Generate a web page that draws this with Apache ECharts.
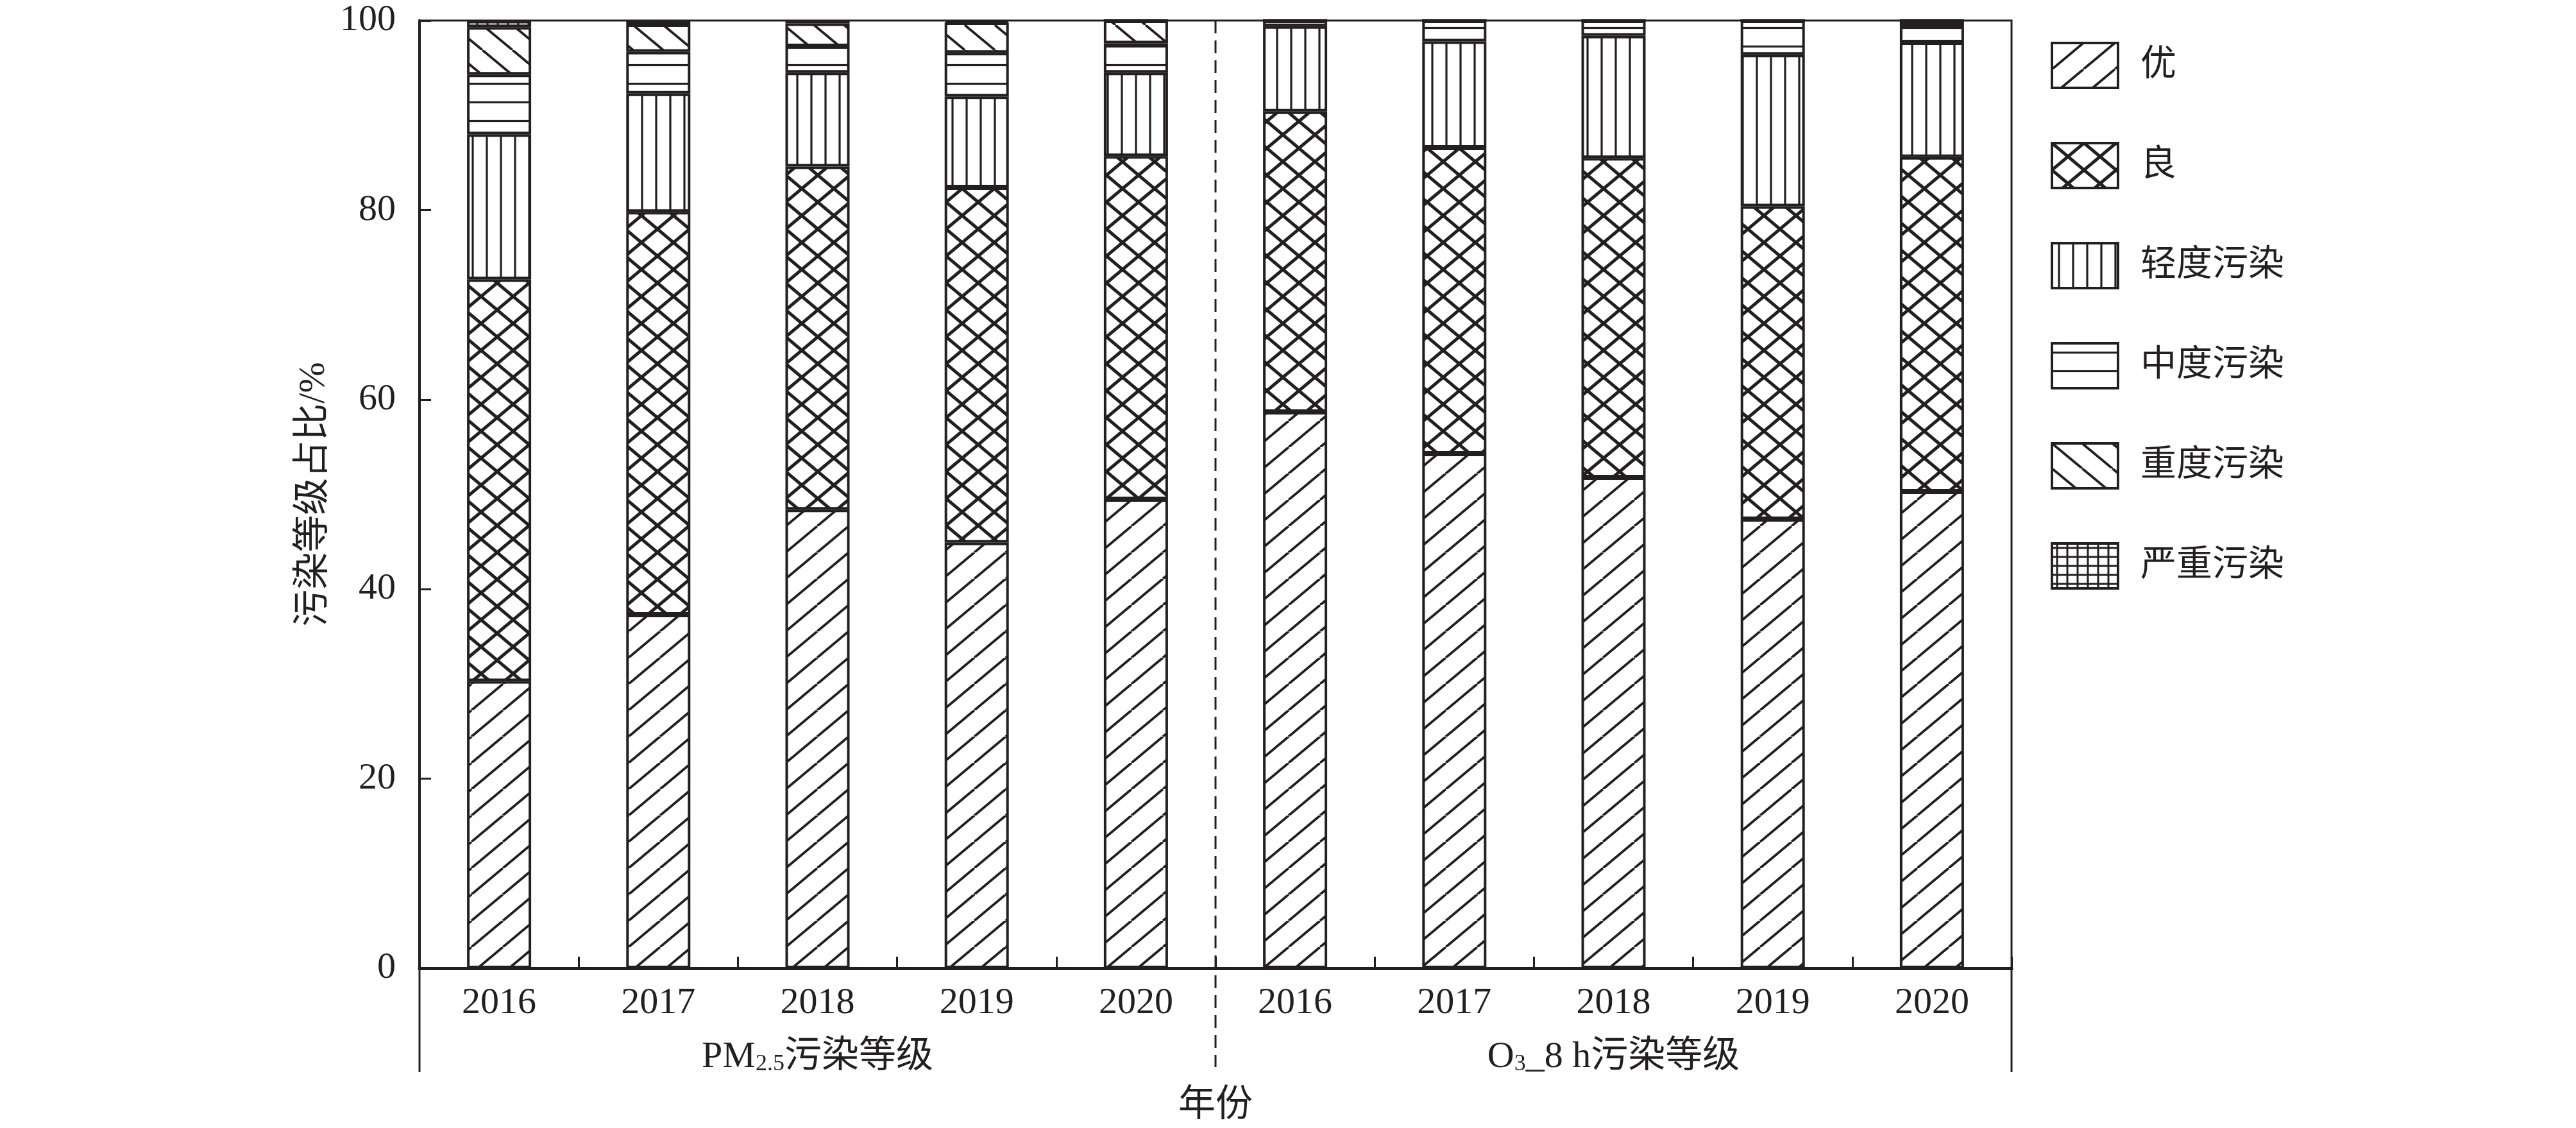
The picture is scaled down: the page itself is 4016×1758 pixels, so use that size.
<!DOCTYPE html>
<html>
<head>
<meta charset="utf-8">
<script src="https://cdn.jsdelivr.net/npm/echarts@6/dist/echarts.min.js"></script>
<style>
html,body{margin:0;padding:0;background:#fff;}
#chart{width:4016px;height:1758px;}
</style>
</head>
<body>
<div id="chart"></div>
<script>
// ---- data ----
const years = ['2016', '2017', '2018', '2019', '2020'];
const groups = ['PM{sub|2.5}污染等级', 'O{sub|3}_8 h污染等级'];
const levels = ['优', '良', '轻度污染', '中度污染', '重度污染', '严重污染'];
const yTicks = [0, 20, 40, 60, 80, 100];
// values (%) : PM2.5 2016-2020, then O3_8h 2016-2020
const excellent = [30.3, 37.3, 48.4, 44.9, 49.5, 58.7, 54.3, 51.8, 47.4, 50.3];
const good      = [42.4, 42.5, 36.2, 37.5, 36.2, 31.7, 32.3, 33.7, 33.0, 35.3];
const light     = [15.3, 12.5,  9.9,  9.6,  8.8,  9.0, 11.2, 12.9, 16.0, 12.1];
const moderate  = [ 6.3,  4.4,  2.8,  4.6,  3.1,  0.6,  2.2,  1.6,  3.6,  1.9];
const heavy     = [ 5.0,  2.9,  2.4,  3.2,  2.4,  0,    0,    0,    0,    0.4];
const severe    = [ 0.7,  0.4,  0.3,  0.2,  0,    0,    0,    0,    0,    0  ];

const INK = '#231f20';
const FONT = '"Liberation Serif", "Noto Sans CJK SC", serif';

// categories: one per group x year
const categories = [];
groups.forEach((g, gi) => years.forEach(y => categories.push(gi + '|' + y)));

// ---- hatch patterns ----
function tile(w, h, draw) {
  const c = document.createElement('canvas');
  c.width = w; c.height = h;
  const ctx = c.getContext('2d');
  ctx.fillStyle = '#fff';
  ctx.fillRect(0, 0, w, h);
  ctx.strokeStyle = INK;
  draw(ctx, w, h);
  return { image: c, repeat: 'repeat' };
}
function lineSeg(ctx, x1, y1, x2, y2) {
  ctx.beginPath(); ctx.moveTo(x1, y1); ctx.lineTo(x2, y2); ctx.stroke();
}
const patterns = [
  // 优: forward slash
  tile(49, 41, (ctx, w, h) => {
    ctx.lineWidth = 3.8;
    [-w, 0, w].forEach(dx => lineSeg(ctx, dx, h, dx + w, 0));
  }),
  // 良: crosshatch (diamonds)
  tile(50, 42, (ctx, w, h) => {
    ctx.lineWidth = 5;
    [-w, 0, w].forEach(dx => {
      lineSeg(ctx, dx, h, dx + w, 0);
      lineSeg(ctx, dx, 0, dx + w, h);
    });
  }),
  // 轻度污染: vertical lines
  tile(22, 4, (ctx, w, h) => {
    ctx.lineWidth = 3.2;
    lineSeg(ctx, 11, 0, 11, h);
  }),
  // 中度污染: horizontal lines
  tile(4, 29, (ctx, w, h) => {
    ctx.lineWidth = 3.2;
    lineSeg(ctx, 0, 14.5, w, 14.5);
  }),
  // 重度污染: back slash
  tile(47, 39, (ctx, w, h) => {
    ctx.lineWidth = 3.8;
    [-w, 0, w].forEach(dx => lineSeg(ctx, dx, 0, dx + w, h));
  }),
  // 严重污染: grid
  tile(16, 14, (ctx, w, h) => {
    ctx.lineWidth = 3;
    lineSeg(ctx, 8, 0, 8, h);
    lineSeg(ctx, 0, 7, w, 7);
  })
];

const seriesData = [excellent, good, light, moderate, heavy, severe];

const chart = echarts.init(document.getElementById('chart'), null, { renderer: 'canvas' });

const option = {
  backgroundColor: '#fff',
  animation: false,
  textStyle: { fontFamily: FONT, color: INK },
  grid: {
    left: 654, right: 880, top: 32, bottom: 248,
    show: true, borderColor: INK, borderWidth: 3, backgroundColor: 'transparent'
  },
  legend: {
    orient: 'vertical',
    left: 3192, top: 60,
    itemWidth: 103, itemHeight: 70, itemGap: 82,
    icon: 'rect',
    data: levels,
    textStyle: { fontSize: 56, color: INK, fontFamily: FONT, padding: [0, 0, 0, 30] },
    itemStyle: { borderColor: INK, borderWidth: 4 }
  },
  xAxis: [
    {
      type: 'category',
      data: categories,
      position: 'bottom',
      axisLine: { show: true, lineStyle: { color: INK, width: 5 } },
      axisTick: { show: true, inside: true, length: 18, lineStyle: { color: INK, width: 3 } },
      axisLabel: {
        margin: 26, fontSize: 58, color: INK, fontFamily: FONT,
        formatter: v => v.split('|')[1]
      },
      splitLine: { show: false }
    },
    {
      type: 'category',
      data: groups,
      position: 'bottom',
      axisLine: { show: false },
      axisTick: { show: false },
      axisLabel: {
        margin: 110, fontSize: 58, color: INK, fontFamily: FONT,
        rich: {
          sub: { fontSize: 36, lineHeight: 24, verticalAlign: 'bottom', fontFamily: FONT, color: INK }
        }
      },
      name: '年份',
      nameLocation: 'middle',
      nameGap: 186,
      nameTextStyle: { fontSize: 58, color: INK, fontFamily: FONT }
    }
  ],
  yAxis: {
    type: 'value',
    min: yTicks[0], max: yTicks[yTicks.length - 1], interval: yTicks[1] - yTicks[0],
    name: '污染等级占比/%',
    nameLocation: 'middle',
    nameGap: 112,
    nameTextStyle: { fontSize: 58, color: INK, fontFamily: FONT },
    axisLine: { show: true, lineStyle: { color: INK, width: 4 } },
    axisTick: { show: true, inside: true, length: 18, lineStyle: { color: INK, width: 3 } },
    axisLabel: { margin: 37, fontSize: 58, color: INK, fontFamily: FONT },
    splitLine: { show: false }
  },
  series: levels.map((name, i) => ({
    name: name,
    type: 'bar',
    stack: 'total',
    xAxisIndex: 0,
    barWidth: 100,
    data: seriesData[i],
    itemStyle: { color: patterns[i], borderColor: INK, borderWidth: 4 },
    emphasis: { disabled: true }
  }))
};

chart.setOption(option);

// separators: dashed divider between the two groups and the outer verticals below the axis
function drawSeparators() {
  const pTop = chart.convertToPixel({ yAxisIndex: 0 }, yTicks[yTicks.length - 1]);
  const pBottom = chart.convertToPixel({ yAxisIndex: 0 }, yTicks[0]);
  const c4 = chart.convertToPixel({ xAxisIndex: 0 }, categories[years.length - 1]);
  const c5 = chart.convertToPixel({ xAxisIndex: 0 }, categories[years.length]);
  const c0 = chart.convertToPixel({ xAxisIndex: 0 }, categories[0]);
  const cN = chart.convertToPixel({ xAxisIndex: 0 }, categories[categories.length - 1]);
  const step = c5 - c4;
  const mid = (c4 + c5) / 2;
  const left = c0 - step / 2;
  const right = cN + step / 2;
  const below = pBottom + 162;
  chart.setOption({
    graphic: [
      { type: 'line', shape: { x1: mid, y1: pTop, x2: mid, y2: below - 8 },
        style: { stroke: INK, lineWidth: 3, lineDash: [20, 11] }, z: 10, silent: true },
      { type: 'line', shape: { x1: left, y1: pBottom, x2: left, y2: below },
        style: { stroke: INK, lineWidth: 3 }, z: 10, silent: true },
      { type: 'line', shape: { x1: right, y1: pBottom, x2: right, y2: below },
        style: { stroke: INK, lineWidth: 3 }, z: 10, silent: true }
    ]
  });
}
drawSeparators();
</script>
</body>
</html>
